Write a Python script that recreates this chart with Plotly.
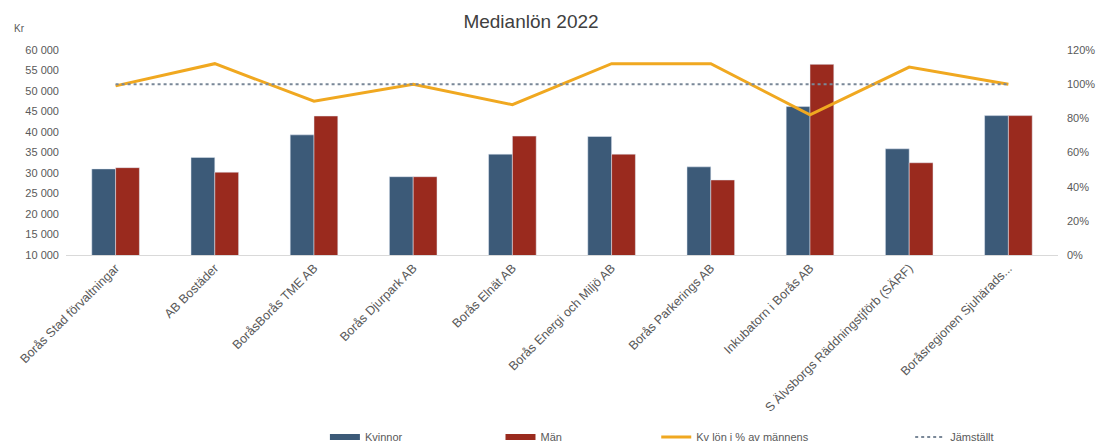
import plotly.graph_objects as go

categories = [
    "Borås Stad förvaltningar",
    "AB Bostäder",
    "BoråsBorås TME AB",
    "Borås Djurpark AB",
    "Borås Elnät AB",
    "Borås Energi och Miljö AB",
    "Borås Parkerings AB",
    "Inkubatorn i Borås AB",
    "S Älvsborgs Räddningstjförb (SÄRF)",
    "Boråsregionen Sjuhärads...",
]
kvinnor = [31000, 33800, 39300, 29100, 34600, 38900, 31500, 46200, 35900, 44000]
man = [31300, 30200, 43900, 29100, 39000, 34600, 28300, 56500, 32500, 44000]
kv_pct = [0.99, 1.12, 0.90, 1.00, 0.88, 1.12, 1.12, 0.82, 1.10, 1.00]
jamstallt = [1.0, 1.0, 1.0, 1.0, 1.0, 1.0, 1.0, 1.0, 1.0, 1.0]

left_ticks = [10000, 15000, 20000, 25000, 30000, 35000, 40000, 45000, 50000, 55000, 60000]
right_ticks = [0, 0.2, 0.4, 0.6, 0.8, 1.0, 1.2]

C_KV = "#3C5A78"
C_MAN = "#9A2A1E"
C_LINE = "#F0A820"
C_DOT = "#7A8898"
FONT = "Liberation Sans, Arial, sans-serif"
GRAY = "#595959"

fig = go.Figure()
fig.add_trace(go.Bar(x=categories, y=kvinnor, name="Kvinnor", marker_color=C_KV,
                     showlegend=False))
fig.add_trace(go.Bar(x=categories, y=man, name="Män", marker_color=C_MAN,
                     showlegend=False))
fig.add_trace(go.Scatter(x=categories, y=kv_pct, name="Kv lön i % av männens",
                         mode="lines", line=dict(color=C_LINE, width=3),
                         yaxis="y2", legend="legend3"))
fig.add_trace(go.Scatter(x=categories, y=jamstallt, name="Jämställt",
                         mode="lines", line=dict(color=C_DOT, width=2, dash="dot"),
                         yaxis="y2", legend="legend4"))
# legend entries for the bars (wide flat swatches as in the reference)
fig.add_trace(go.Scatter(x=[None], y=[None], name="Kvinnor", mode="lines",
                         line=dict(color=C_KV, width=6), legend="legend"))
fig.add_trace(go.Scatter(x=[None], y=[None], name="Män", mode="lines",
                         line=dict(color=C_MAN, width=6), legend="legend2"))

leg_common = dict(orientation="h", yanchor="middle", y=-0.888, xanchor="left",
                  font=dict(family=FONT, size=11, color=GRAY),
                  bgcolor="rgba(0,0,0,0)")

fig.update_layout(
    width=1104, height=446,
    margin=dict(l=66, r=46, t=50, b=191, autoexpand=False),
    paper_bgcolor="white", plot_bgcolor="white",
    separators=", ",
    barmode="group", bargap=0.52, bargroupgap=0,
    font=dict(family=FONT, color=GRAY),
    title=dict(text="Medianlön 2022", xref="container", x=0.481, xanchor="center",
               yref="container", y=0.953, yanchor="middle",
               font=dict(family=FONT, size=19, color="#404040")),
    xaxis=dict(type="category", tickangle=-45, showgrid=False, showline=True,
               linecolor="#D9D9D9", linewidth=1, ticks="", automargin=False,
               tickfont=dict(family=FONT, size=12.5, color=GRAY)),
    yaxis=dict(range=[10000, 60000], tickvals=left_ticks, tickformat=",d",
               showgrid=False, zeroline=False, showline=False, ticks="",
               ticklabelstandoff=6, automargin=False,
               tickfont=dict(family=FONT, size=11, color=GRAY)),
    yaxis2=dict(range=[0, 1.2], tickvals=right_ticks, tickformat=".0%",
                overlaying="y", side="right", showgrid=False, zeroline=False,
                showline=False, ticks="", ticklabelstandoff=8, automargin=False,
                tickfont=dict(family=FONT, size=11, color=GRAY)),
    legend=dict(x=0.261, **leg_common),
    legend2=dict(x=0.438, **leg_common),
    legend3=dict(x=0.595, **leg_common),
    legend4=dict(x=0.851, **leg_common),
    annotations=[dict(text="Kr", xref="paper", yref="paper", x=-0.054, y=1.107,
                      xanchor="left", yanchor="middle", showarrow=False,
                      font=dict(family=FONT, size=10, color=GRAY))],
)

fig.write_html("out.html", config={"displayModeBar": False},
               post_script="document.body.style.margin='0';document.body.style.overflow='hidden';")
